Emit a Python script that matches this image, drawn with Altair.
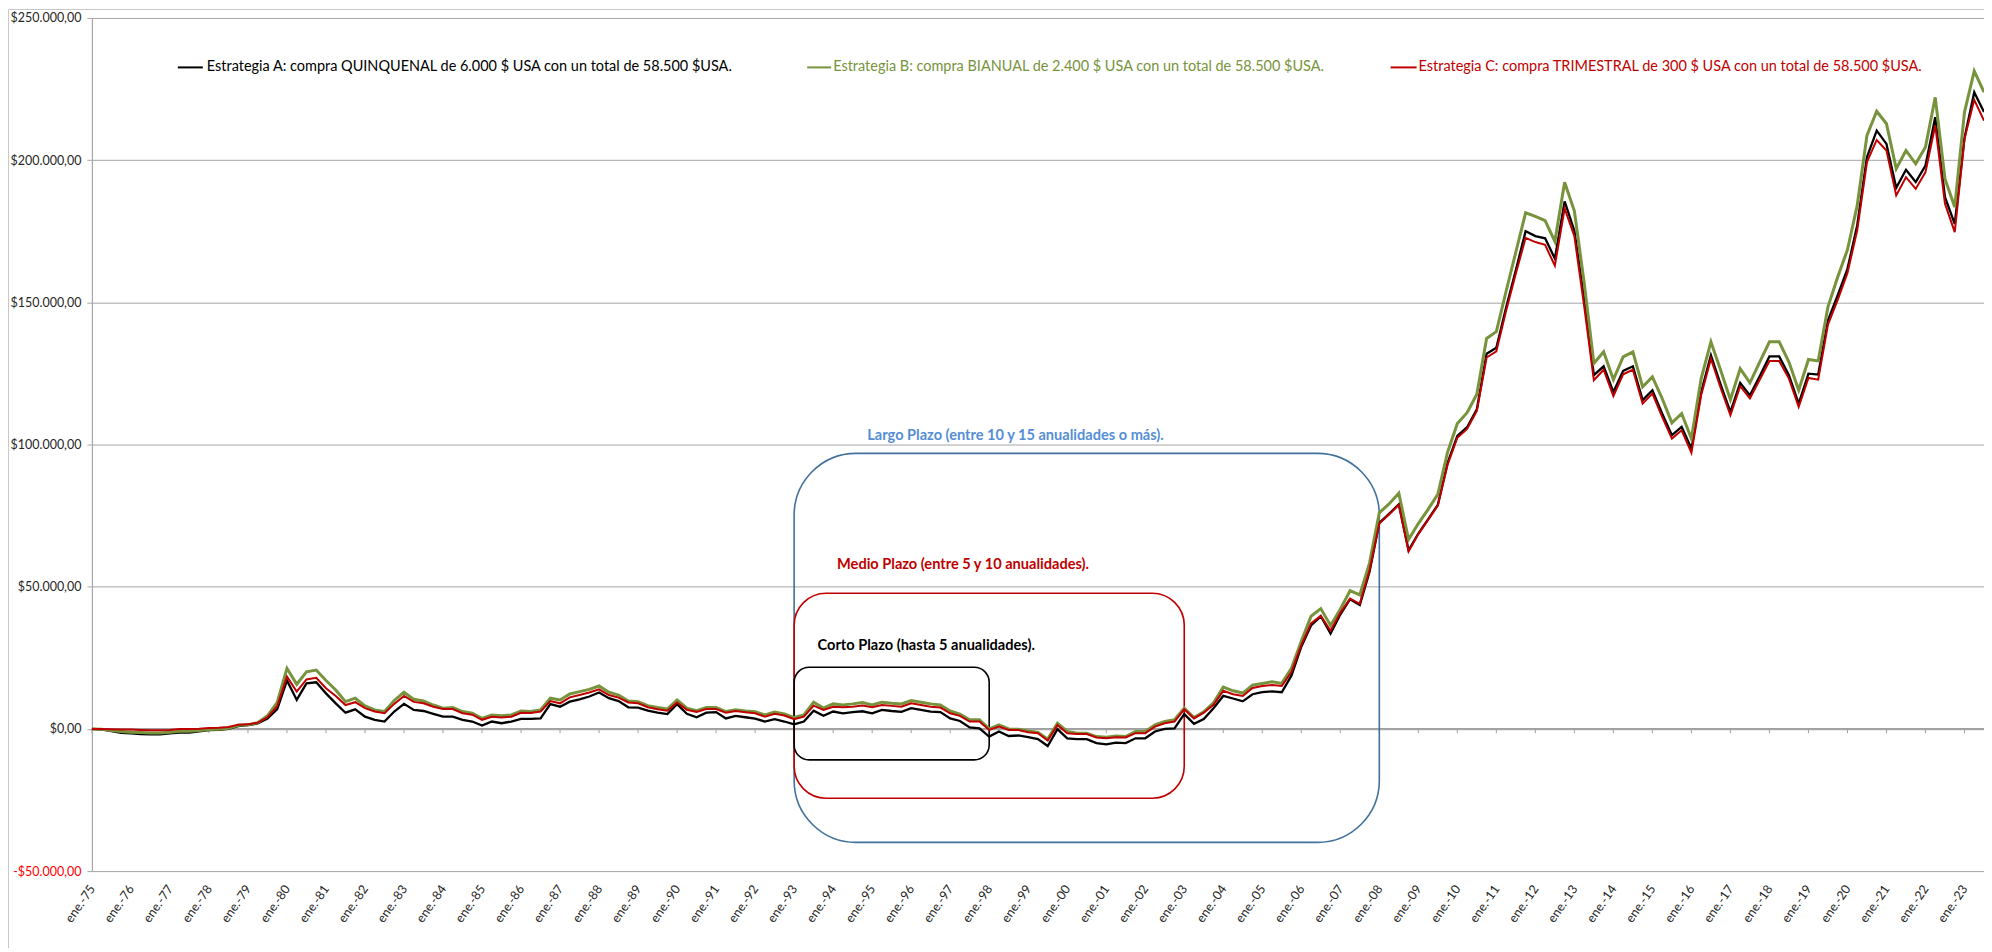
import altair as alt
import pandas as pd

# ---------------- data (quarterly, ene.-75 .. 2023) ----------------
quarter_index = list(range(195))

estrategia_a = [
    0, -200, -800, -1400, -1600, -1800, -1900, -1900, -1600, -1300, -1300, -900, -450, -350, 0, 1000, 1300, 1900, 3600, 7000,
    17000, 10200, 16000, 16400, 12500, 9000, 5700, 6900, 4300, 3200, 2600, 6100, 8800, 6700, 6300, 5300, 4300, 4300, 3200, 2600,
    1200, 2600, 2000, 2600, 3500, 3500, 3700, 8700, 7800, 9600, 10400, 11400, 12800, 10800, 9800, 7600, 7500, 6400, 5700, 5200,
    8700, 5300, 4100, 5700, 5900, 3700, 4600, 4100, 3600, 2600, 3400, 2600, 1600, 2600, 6400, 4600, 6100, 5500, 5900, 6200,
    5500, 6700, 6300, 6000, 7300, 6700, 6100, 5900, 3700, 2800, 500, 200, -2700, -900, -2500, -2300, -2900, -3600, -6000, -100,
    -3300, -3600, -3600, -5000, -5400, -4800, -5000, -3300, -3300, -900, 0, 200, 5200, 1800, 3500, 7300, 11600, 10700, 9700, 12200,
    12900, 13200, 12900, 18800, 28900, 36400, 39600, 33500, 40200, 45600, 43600, 55300, 72500, 75600, 79000, 62800, 68700, 73700, 78800, 93600,
    103000, 106100, 112400, 131900, 134000, 148200, 161400, 175000, 173300, 172500, 165400, 185500, 175200, 151300, 124400, 127500, 118500, 125900, 127500, 115600,
    119100, 110900, 103300, 106200, 98600, 118500, 131400, 121100, 111500, 121700, 117300, 124000, 131000, 131000, 124400, 114400, 124900, 124600, 143700, 152500,
    161800, 177100, 201100, 210400, 205700, 190300, 196600, 192300, 198100, 215100, 187000, 177600, 207800, 223900, 216900,
]

estrategia_b = [
    0, -100, -600, -900, -1200, -1300, -1400, -1400, -1200, -800, -800, -600, -200, -100, 200, 1300, 1500, 2200, 4600, 9300,
    21300, 15700, 20100, 20700, 17000, 13700, 9600, 10800, 8100, 6700, 6100, 10000, 12900, 10400, 9800, 8400, 7300, 7500, 6100, 5500,
    3700, 4900, 4600, 4900, 6300, 6100, 6700, 10800, 10200, 12300, 13100, 13900, 15100, 12900, 11900, 9800, 9600, 8200, 7500, 7000,
    10200, 7300, 6400, 7500, 7500, 6100, 6700, 6300, 6000, 4900, 5900, 5300, 4000, 4900, 9400, 7300, 8800, 8400, 8800, 9300,
    8400, 9400, 9000, 8800, 10000, 9400, 8800, 8400, 6300, 5200, 3200, 3200, 0, 1400, 0, -100, -700, -1200, -3600, 2000,
    -900, -1500, -1500, -2700, -2900, -2500, -2700, -900, -900, 1400, 2600, 3200, 7300, 4000, 6000, 9200, 14700, 13400, 12600, 15400,
    16000, 16600, 16000, 21400, 30800, 39600, 42300, 36400, 42100, 48600, 47100, 58400, 76000, 79100, 82900, 66600, 72200, 77200, 82500, 97300,
    107400, 111200, 117700, 137300, 139700, 153900, 167700, 181500, 180200, 178700, 171400, 192200, 182100, 157000, 128500, 132600, 122800, 130800, 132600, 120300,
    123800, 116200, 107600, 110900, 102100, 123200, 136100, 126100, 115800, 126700, 121700, 129000, 136100, 136100, 129000, 119100, 129900, 129400, 148400, 158900,
    168500, 184100, 208700, 217200, 212800, 197000, 203400, 198700, 204600, 222100, 193400, 183500, 216900, 231300, 223900,
]

estrategia_c = [
    0, 0, -100, -200, -200, -350, -450, -450, -350, 0, 0, 100, 350, 450, 700, 1500, 1600, 2200, 4100, 8000,
    18400, 13100, 17400, 18000, 14300, 11600, 8400, 9400, 7300, 6100, 5500, 8800, 11600, 9500, 9000, 7800, 7000, 7000, 5500, 5000,
    3200, 4300, 4000, 4300, 5700, 5600, 6100, 9800, 9000, 11100, 11900, 12800, 13900, 11900, 11000, 9300, 9000, 7600, 6900, 6400,
    9300, 6700, 6000, 7000, 7000, 5700, 6300, 5900, 5500, 4300, 5300, 4700, 3400, 4300, 8200, 6700, 7800, 7600, 7800, 8200,
    7600, 8400, 8100, 7800, 9000, 8400, 7800, 7500, 5500, 4600, 2600, 2600, -350, 800, -350, -400, -1200, -1500, -4100, 1400,
    -1500, -1800, -1800, -3000, -3300, -2900, -3000, -1500, -1500, 800, 2000, 2600, 6900, 3700, 5700, 8500, 13400, 12200, 11600, 14400,
    15100, 15400, 15100, 20100, 29500, 37100, 39800, 34500, 40800, 45800, 44000, 55900, 72200, 75400, 78800, 62400, 68500, 73500, 78500, 92900,
    102400, 105500, 111800, 130600, 132800, 147000, 160100, 172700, 171200, 170200, 162900, 183000, 173300, 148800, 122600, 126300, 117000, 124700, 126300, 114400,
    117900, 109700, 102100, 105000, 97100, 117300, 130200, 119900, 110300, 120500, 116200, 122800, 129400, 129400, 123200, 113200, 123400, 122800, 142200, 150900,
    160300, 175300, 199300, 207100, 203400, 187600, 194000, 189900, 195800, 212200, 184700, 174700, 207500, 221200, 213900,
]

year_ticks = list(range(0, 193, 4))
y_ticks = [-50000, 0, 50000, 100000, 150000, 200000, 250000]

series_names = ["A", "B", "C"]
legend_labels = [
    "Estrategia A: compra QUINQUENAL de 6.000 $ USA con un total de 58.500 $USA.",
    "Estrategia B: compra BIANUAL de 2.400 $ USA con un total de 58.500 $USA.",
    "Estrategia C: compra TRIMESTRAL de 300 $ USA con un total de 58.500 $USA.",
]

# annotation boxes (data units)
box_labels = [
    "Largo Plazo (entre 10 y 15 anualidades o más).",
    "Medio Plazo (entre 5 y 10 anualidades).",
    "Corto Plazo (hasta 5 anualidades).",
]
box_x_from = [72, 72, 72]
box_x_to = [132, 112, 92]
box_y_top = [96900, 47700, 21700]
box_y_bottom = [-39900, -24400, -10900]

# ---------------- styling / layout ----------------
W, H = 1894, 854
FONT = "Lato"
series_colors = ["#000000", "#77933C", "#C00000"]
series_widths = [2.3, 3.0, 2.0]
box_colors = ["#41719C", "#C00000", "#000000"]
box_text_colors = ["#558ED5", "#C00000", "#000000"]
box_radius = [62, 32, 15]
box_text_pos = [(79.5, 103000), (76.4, 57600), (74.4, 29200)]
legend_line_x = [(86, 111), (716, 740), (1300, 1326)]
legend_text_x = [115, 742, 1328]
legend_y = 49.5

df = pd.DataFrame({
    "trimestre": quarter_index * 3,
    "valor": estrategia_a + estrategia_b + estrategia_c,
    "serie": ["A"] * 195 + ["B"] * 195 + ["C"] * 195,
})
ticks_df = pd.DataFrame({"trimestre": year_ticks, "valor": [0] * len(year_ticks)})
one = alt.Data(values=[{"k": 1}])

xscale = alt.Scale(domain=[0, 194], nice=False, zero=False)
yscale = alt.Scale(domain=[-50000, 250000], nice=False, zero=False)

# Spanish currency format: $250.000,00 / -$50.000,00 / $0,00
y_label_expr = (
    "(datum.value < 0 ? '-$' : '$') + "
    "(abs(datum.value) >= 1000 ? "
    "format(floor(abs(datum.value) / 1000), 'd') + '.' + format(abs(datum.value) % 1000, '03d') : "
    "format(abs(datum.value), 'd')) + ',00'"
)
x_label_expr = "'ene.-' + substring('' + (1975 + datum.value / 4), 2, 4)"

xaxis = alt.Axis(
    values=year_ticks, labelExpr=x_label_expr, labelAngle=305, labelFont=FONT,
    labelFontSize=12.5, labelColor="#262626", domain=False, ticks=False, grid=False,
    labelPadding=15, title=None, labelOverlap=False,
)
yaxis = alt.Axis(
    values=y_ticks, labelExpr=y_label_expr, labelFont=FONT, labelFontSize=12.5,
    labelColor={"condition": {"test": "datum.value < 0", "value": "#FF0000"}, "value": "#262626"},
    grid=True, gridColor="#A6A6A6", gridWidth=1, domainColor="#A6A6A6", domainWidth=1.2,
    tickColor="#A6A6A6", tickSize=5, labelPadding=6, title=None,
)

X = lambda f: alt.X(f, scale=xscale, axis=xaxis)
Y = lambda f: alt.Y(f, scale=yscale, axis=yaxis)

layers = []

# zero line with year ticks hanging below it
layers.append(
    alt.Chart(ticks_df).mark_rule(color="#A0A0A0", strokeWidth=1).encode(
        x=X("trimestre:Q"), y=Y("valor:Q"), y2=alt.datum(-1500)
    )
)
layers.append(
    alt.Chart(ticks_df).transform_aggregate(
        x0="min(trimestre)", y0="min(valor)"
    ).transform_calculate(x1="194").mark_rule(color="#A0A0A0", strokeWidth=1.6).encode(
        x=X("x0:Q"), x2="x1:Q", y=Y("y0:Q")
    )
)

# annotation boxes and their texts
for k in range(3):
    layers.append(
        alt.Chart(one).mark_rect(
            fillOpacity=0, stroke=box_colors[k], strokeWidth=1.6, cornerRadius=box_radius[k]
        ).encode(
            x=alt.datum(box_x_from[k], scale=xscale, axis=xaxis), x2=alt.datum(box_x_to[k]),
            y=alt.datum(box_y_top[k], scale=yscale, axis=yaxis), y2=alt.datum(box_y_bottom[k]),
        )
    )
    layers.append(
        alt.Chart(one).mark_text(
            align="left", baseline="middle", font=FONT, fontSize=14.6, fontWeight="bold",
            color=box_text_colors[k],
        ).encode(
            x=alt.datum(box_text_pos[k][0], scale=xscale, axis=xaxis),
            y=alt.datum(box_text_pos[k][1], scale=yscale, axis=yaxis),
            text=alt.value(box_labels[k]),
        )
    )

# series lines (A, B, C order)
for k, s in enumerate(series_names):
    layers.append(
        alt.Chart(df).transform_filter(alt.datum.serie == s).mark_line(
            color=series_colors[k], strokeWidth=series_widths[k]
        ).encode(x=X("trimestre:Q"), y=Y("valor:Q"))
    )

# legend
for k in range(3):
    layers.append(
        alt.Chart(one).mark_rule(color=series_colors[k], strokeWidth=2).encode(
            x=alt.value(legend_line_x[k][0]), x2=alt.value(legend_line_x[k][1]), y=alt.value(legend_y)
        )
    )
    layers.append(
        alt.Chart(one).mark_text(
            align="left", baseline="middle", font=FONT, fontSize=14.5, color=series_colors[k]
        ).encode(x=alt.value(legend_text_x[k]), y=alt.value(legend_y), text=alt.value(legend_labels[k]))
    )

# chart-area border (top and left)
layers.append(
    alt.Chart(one).mark_rule(color="#C8C8C8", strokeWidth=1).encode(
        x=alt.value(-83.5), x2=alt.value(W + 10), y=alt.value(-8.5)
    )
)
layers.append(
    alt.Chart(one).mark_rule(color="#C8C8C8", strokeWidth=1).encode(
        x=alt.value(-83.5), y=alt.value(-8.5), y2=alt.value(H + 80)
    )
)

chart = alt.layer(*layers).properties(
    width=W, height=H,
    padding={"left": 84, "top": 9.5, "right": 0, "bottom": 76},
    autosize=alt.AutoSizeParams(type="none"),
    background="white",
).configure_view(stroke=None)

chart.save("out.html", embed_options={"renderer": "svg", "actions": False})
